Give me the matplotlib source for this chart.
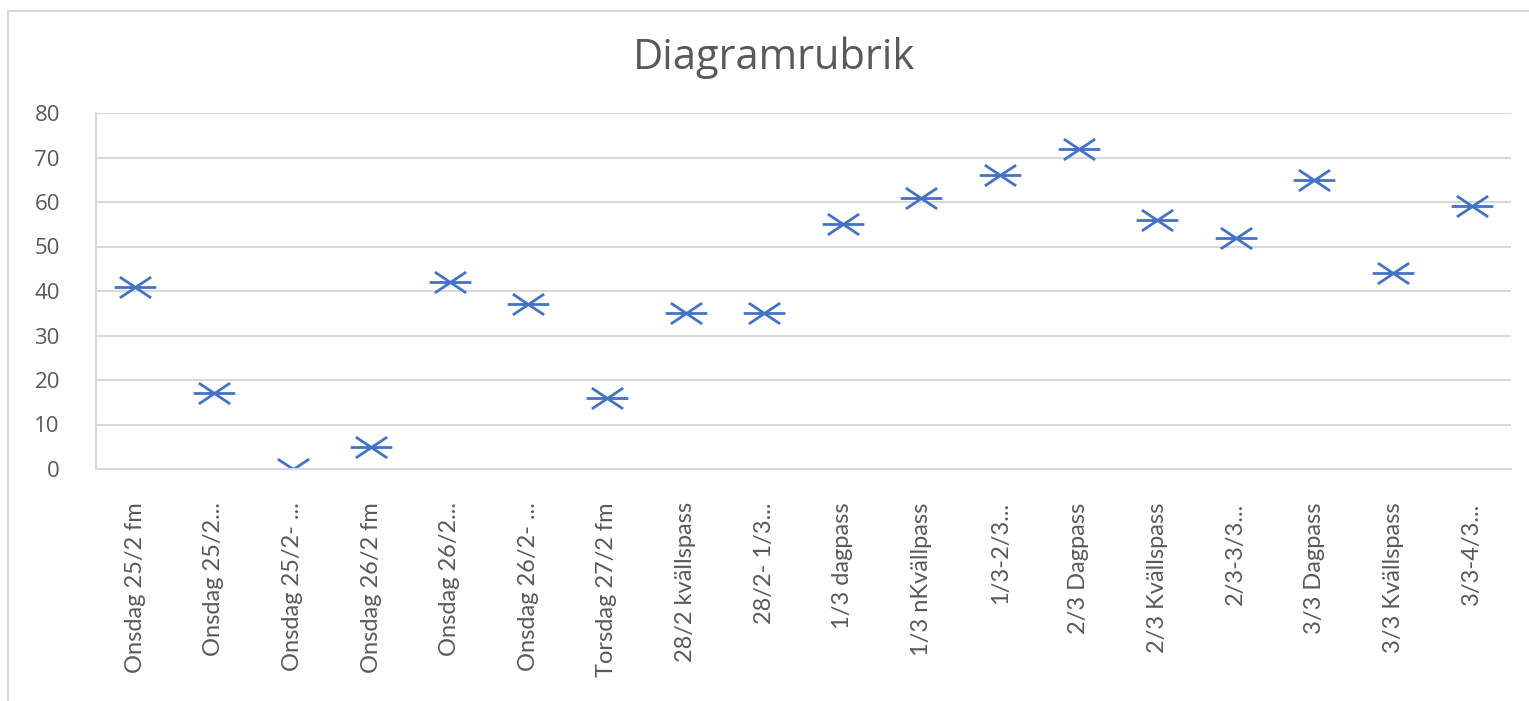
import matplotlib
matplotlib.use("Agg")
from matplotlib import pyplot as plt
from matplotlib.path import Path
from matplotlib.patches import Rectangle

# data
labels = ["Onsdag 25/2 fm", "Onsdag 25/2...", "Onsdag 25/2- ...", "Onsdag 26/2 fm",
          "Onsdag 26/2...", "Onsdag 26/2- ...", "Torsdag 27/2 fm", "28/2 kvällspass",
          "28/2- 1/3...", "1/3 dagpass", "1/3 nKvällpass", "1/3-2/3...",
          "2/3 Dagpass", "2/3 Kvällspass", "2/3-3/3...", "3/3 Dagpass",
          "3/3 Kvällspass", "3/3-4/3..."]
values = [41, 17, 0, 5, 42, 37, 16, 35, 35, 55, 61, 66, 72, 56, 52, 65, 44, 59]
yticks = [0, 10, 20, 30, 40, 50, 60, 70, 80]

blue = "#4472C4"
grid = "#D9D9D9"
txt = "#595959"

# wide asterisk like the Excel marker
star = Path([(-1, 0), (1, 0), (-0.75, -0.5), (0.75, 0.5), (-0.75, 0.5), (0.75, -0.5)],
            [Path.MOVETO, Path.LINETO, Path.MOVETO, Path.LINETO, Path.MOVETO, Path.LINETO])

fig = plt.figure(figsize=(15.29, 7.01), dpi=100)
fig.patches.append(Rectangle((8/1529, -0.05), 1.2, (701-11)/701 + 0.05, transform=fig.transFigure,
                             fill=False, edgecolor=grid, lw=1.5))
ax = fig.add_axes([96/1529, (701-469)/701, (1511-96)/1529, (469-113)/701])

x = list(range(len(labels)))
ax.plot(x, values, linestyle="none", marker=star, markersize=30, markeredgewidth=2,
        color=blue, markerfacecolor="none")

ax.set_xlim(-0.5, len(labels) - 0.5)
ax.set_ylim(0, 80)
ax.set_yticks(yticks)
ax.set_yticklabels([str(v) for v in yticks], fontsize=16, color=txt, family=["Open Sans", "DejaVu Sans"])
ax.set_xticks(x)
ax.set_xticklabels(labels, rotation=90, fontsize=17, color=txt,
                   family=["Lato", "DejaVu Sans"])
ax.tick_params(axis="both", length=0)
ax.tick_params(axis="x", pad=24)
ax.tick_params(axis="y", pad=26)
ax.grid(axis="y", color=grid, lw=1.5)
ax.set_axisbelow(True)
for s in ["top", "right"]:
    ax.spines[s].set_visible(False)
ax.spines["left"].set_color(grid)
ax.spines["left"].set_linewidth(1.5)
ax.spines["bottom"].set_color(grid)
ax.spines["bottom"].set_linewidth(1.5)

fig.text(774/1529, 1 - 58/701, "Diagramrubrik", ha="center", va="center", fontsize=30,
         color=txt, family=["Open Sans", "DejaVu Sans"])

plt.savefig("out.png", dpi=100)
